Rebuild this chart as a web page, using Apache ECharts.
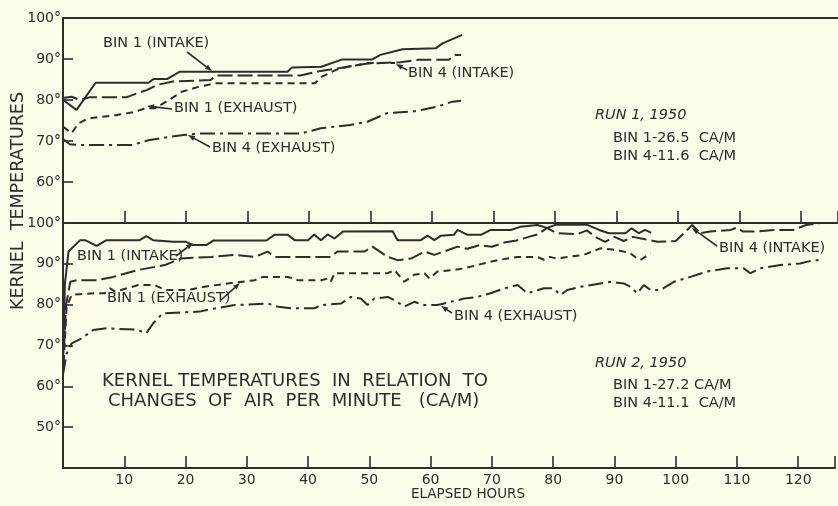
<!DOCTYPE html>
<html>
<head>
<meta charset="utf-8">
<script src="https://cdn.jsdelivr.net/npm/echarts@6/dist/echarts.min.js"></script>
<style>
  html, body { margin: 0; padding: 0; background: #fcfce8; }
  #chart { width: 838px; height: 506px; }
</style>
</head>
<body>
<div id="chart"></div>
<script>
// Run 1, 1950 - [elapsed hours, kernel temperature]
const run1Bin1Intake = [[0,80],[2.2,77.6],[5.3,84.2],[13.9,84.2],[14.7,85.1],[16.9,85.1],[19,86.9],[36.5,86.9],[37.2,87.9],[42,88.1],[45.4,89.9],[50.3,89.9],[51.6,91],[55.2,92.4],[60.6,92.6],[61.7,93.8],[64.9,95.9]]
const run1Bin4Intake = [[0,80.5],[1.4,80.8],[2.8,80],[4.4,80.7],[10.4,80.7],[12,81.6],[13.6,82.4],[15.3,83.7],[17.9,84.5],[24,84.9],[25,86],[38.6,86],[41.9,87.1],[44.6,87.7],[49.5,88.9],[54.9,89.2],[57.8,89.8],[62.7,89.8],[63.8,91],[64.7,91]]
const run1Bin1Exhaust = [[0,73.5],[1.4,71.9],[2.5,74.3],[4.1,75.5],[8.5,76.3],[11.7,77.1],[13.4,78],[15,78],[17.2,80],[19.3,82],[22,83.2],[24.8,84.1],[41,84.1],[42.1,85.7],[44.3,87.3],[46.4,88.1],[49.7,89],[54,89]]
const run1Bin4Exhaust = [[0,70.5],[1.1,69.2],[2.8,69],[11.2,69],[13.9,70.2],[17.2,71],[19.9,71.5],[21.8,71.8],[38.6,71.8],[41.9,73.1],[46.7,73.9],[49.5,74.7],[52.7,76.8],[56.8,77.2],[58.4,77.6],[60.9,78.4],[63.3,79.6],[64.7,79.8]]

// Run 2, 1950
const run2Bin1Intake = [[0,64],[0.3,85],[0.9,93],[2.8,95.8],[3.6,95.8],[5.5,94.4],[7.1,95.8],[12.5,95.8],[13.6,96.8],[14.7,95.8],[18,95.4],[20.1,95.4],[21.2,94.6],[23.4,94.6],[24.5,95.7],[33.2,95.7],[34.5,97.1],[36.7,97.1],[37.8,95.8],[40,95.8],[41,97.2],[42.1,95.8],[43.2,97.2],[44.3,96.2],[45.7,97.9],[53.8,98],[54.6,95.8],[58.4,95.8],[59.5,96.9],[60.6,95.8],[61.7,96.9],[63.8,97.1],[64.4,98.3],[66,97.1],[68.2,97.1],[69.8,98.3],[73.1,98.3],[74.7,99.1],[77.4,99.5],[79,98.8],[80.5,99.6],[85.5,99.6],[87.5,98.3],[89.1,97.5],[91.8,97.5],[92.8,98.7],[94,97.5],[95,98.3],[96,97.6]]
const run2Bin4Intake = [[0,64],[0.5,80],[1.2,85.6],[2.2,86],[5.5,86],[8.2,86.8],[12.3,88.5],[16.6,89.7],[19.3,91.3],[24.2,91.7],[28,92.2],[31.3,91.7],[33.4,93],[34.5,91.7],[43.7,91.7],[44.8,93],[49.2,93],[50.5,94.2],[53,91.7],[54.6,90.9],[56.8,91.3],[59,93],[60.6,92.2],[62.2,93],[64.4,94.2],[66,93.7],[68,94.6],[70,94.2],[72,95.2],[74,95.7],[76,96.6],[77.5,97.2],[79,98.8],[80.5,97.5],[84,97.3],[85.5,98.2],[87,96.5],[88.5,95.4],[90,96.6],[91.5,95.6],[93,96.6],[95,96],[97,95.4],[100,95.6],[102.7,99.5],[104,97.5],[105.6,97.9],[109,98.3],[110,98.9],[111,97.9],[113.2,97.9],[116,98.3],[119.2,98.3],[121.3,99.5],[123.6,100],[125,100]]
const run2Bin1Exhaust = [[0,63],[0.6,79.5],[1.4,82.4],[5.2,82.8],[6.8,82.8],[7.7,84],[8.5,83.2],[12.3,84.8],[15,84.8],[16.6,83.6],[20.4,83.6],[23.1,84.4],[26.9,85.2],[31.3,86],[32.6,86.8],[36.7,86.8],[38.3,86],[42.1,86],[43.2,86.4],[43.7,85.6],[44.3,87.7],[53,87.7],[54.1,88.5],[55.7,85.6],[57.3,87.3],[59,87.7],[59.8,86.4],[61.1,88.1],[63.8,88.5],[65.5,88.9],[67.6,89.7],[70.9,90.9],[74.2,91.7],[77.4,91.7],[78.5,91],[79.5,91.7],[80.5,91.3],[85,92.2],[87.7,93.8],[90.4,93.4],[92.6,92.6],[93.7,91.3],[94.2,90.9],[95.9,92.6]]
const run2Bin4Exhaust = [[0,63],[0.6,68],[1.4,70.5],[3,71.7],[4.9,73.8],[7.1,74.2],[12,73.9],[13.6,73],[14.7,75.4],[16.3,77.9],[22.3,78.3],[24.5,79],[28,79.9],[33.4,80.3],[35.1,79.5],[37.2,79.1],[41,79.1],[42.1,79.9],[45.4,80.3],[47,81.9],[48.6,81.5],[49.7,79.9],[50.8,81.5],[53,81.9],[54.1,81.1],[55.7,79.5],[57.3,80.7],[59,79.9],[61.1,79.9],[62.2,80.3],[65.5,81.5],[67.6,81.9],[69.8,82.8],[72,84],[74.2,84.8],[75.8,82.8],[78.5,84],[80,84],[81.2,82.4],[82.3,83.6],[84.5,84.4],[87.7,85.2],[89.3,85.6],[91.5,85.2],[92.6,84.4],[93.7,82.8],[94.8,84.8],[95.9,83.6],[97.5,83.6],[99.7,85.6],[102.4,86.8],[105.1,88.1],[108.4,88.9],[111.1,88.9],[112.2,87.7],[113.8,88.9],[117.1,89.7],[120.3,90.1],[122.5,90.9],[124.1,90.9]]

const xTicks = [10, 20, 30, 40, 50, 60, 70, 80, 90, 100, 110, 120]

const ink = '#2c2c31'
const font = 'DejaVu Sans'

const chart = echarts.init(document.getElementById('chart'), null, { renderer: 'canvas' })

function line(data, dash, x, y) {
  return {
    type: 'line',
    xAxisIndex: x,
    yAxisIndex: y,
    data: data,
    showSymbol: false,
    symbol: 'none',
    silent: true,
    lineStyle: { color: ink, width: 2, type: dash }
  }
}

function label(text, x, y, size, italic) {
  return {
    type: 'text', x: x, y: y, silent: true,
    style: {
      text: text, fill: ink, align: 'left', verticalAlign: 'middle',
      font: (italic ? 'italic ' : '') + (size || 14.5) + 'px "' + font + '"'
    }
  }
}

// pointer line with a small head at (x2, y2)
function pointer(x1, y1, x2, y2) {
  const a = Math.atan2(y2 - y1, x2 - x1)
  const l = 7, w = 2.6
  const bx = x2 - l * Math.cos(a), by = y2 - l * Math.sin(a)
  return [
    { type: 'line', silent: true, shape: { x1: x1, y1: y1, x2: bx, y2: by }, style: { stroke: ink, lineWidth: 1.6 } },
    { type: 'polygon', silent: true, shape: { points: [
      [x2, y2],
      [bx + w * Math.sin(a), by - w * Math.cos(a)],
      [bx - w * Math.sin(a), by + w * Math.cos(a)]
    ] }, style: { fill: ink } }
  ]
}

const axisLine = { show: true, lineStyle: { color: ink, width: 2 } }
const tick = { show: true, inside: true, lineStyle: { color: ink, width: 1.6 } }

chart.setOption({
  backgroundColor: '#fcfce8',
  animation: false,
  grid: [
    { left: 63, right: 0, top: 18, height: 205 },
    { left: 63, right: 0, top: 223, height: 245 }
  ],
  xAxis: [
    {
      gridIndex: 0, type: 'value', min: 0, max: 126, interval: 10, position: 'bottom',
      axisLine: axisLine, axisTick: Object.assign({ length: 12 }, tick),
      axisLabel: { show: false }, splitLine: { show: false }
    },
    {
      gridIndex: 0, type: 'value', min: 0, max: 126, position: 'top',
      axisLine: axisLine, axisTick: { show: false },
      axisLabel: { show: false }, splitLine: { show: false }
    },
    {
      gridIndex: 1, type: 'value', min: 0, max: 126, interval: 10, position: 'bottom',
      axisLine: axisLine, axisTick: Object.assign({ length: 12 }, tick),
      axisLabel: {
        color: ink, fontFamily: font, fontSize: 14, margin: 5,
        formatter: v => xTicks.indexOf(v) >= 0 ? String(v) : ''
      },
      splitLine: { show: false }
    }
  ],
  yAxis: [
    {
      gridIndex: 0, type: 'value', min: 50, max: 100, interval: 10,
      axisLine: axisLine, axisTick: Object.assign({ length: 10 }, tick),
      axisLabel: { color: ink, fontFamily: font, fontSize: 14, margin: 2,
        formatter: v => v === 50 ? '' : v + '°' },
      splitLine: { show: false }
    },
    {
      gridIndex: 1, type: 'value', min: 40, max: 100, interval: 10,
      axisLine: axisLine, axisTick: Object.assign({ length: 10 }, tick),
      axisLabel: { color: ink, fontFamily: font, fontSize: 14, margin: 2,
        formatter: v => v === 40 ? '' : v + '°' },
      splitLine: { show: false }
    }
  ],
  series: [
    line(run1Bin1Intake, 'solid', 0, 0),
    line(run1Bin4Intake, [15, 5], 0, 0),
    line(run1Bin1Exhaust, [7, 5], 0, 0),
    line(run1Bin4Exhaust, [15, 5, 3, 5], 0, 0),
    line(run2Bin1Intake, 'solid', 2, 1),
    line(run2Bin4Intake, [15, 5], 2, 1),
    line(run2Bin1Exhaust, [7, 5], 2, 1),
    line(run2Bin4Exhaust, [15, 5, 3, 5], 2, 1)
  ],
  graphic: [
    // run 1 annotations
    label('BIN 1 (INTAKE)', 103, 43),
    ...pointer(187, 52, 212, 71),
    label('BIN 4 (INTAKE)', 408, 73),
    ...pointer(407, 70, 396, 64),
    label('BIN 1 (EXHAUST)', 174, 108),
    ...pointer(172, 109, 147, 106),
    label('BIN 4 (EXHAUST)', 212, 148),
    ...pointer(210, 147, 188, 135),
    label('RUN 1, 1950', 595, 115, 14.5, true),
    label('BIN 1-26.5  CA/M', 613, 138),
    label('BIN 4-11.6  CA/M', 613, 156),
    // run 2 annotations
    label('BIN 1 (INTAKE)', 77, 256),
    ...pointer(176, 256, 193, 243),
    label('BIN 1 (EXHAUST)', 107, 298),
    ...pointer(221, 300, 240, 283),
    label('BIN 4 (EXHAUST)', 454, 316),
    ...pointer(452, 313, 441, 306),
    label('BIN 4 (INTAKE)', 719, 248),
    ...pointer(717, 246, 692, 228),
    label('KERNEL TEMPERATURES  IN  RELATION  TO', 102, 381, 18),
    label('CHANGES  OF  AIR  PER  MINUTE   (CA/M)', 108, 401, 18),
    label('RUN 2, 1950', 595, 363, 14.5, true),
    label('BIN 1-27.2 CA/M', 613, 385),
    label('BIN 4-11.1  CA/M', 613, 403),
    // axis names
    {
      type: 'text', x: 18, y: 201, rotation: Math.PI / 2, silent: true,
      style: { text: 'KERNEL  TEMPERATURES', fill: ink, align: 'center', verticalAlign: 'middle',
        font: '17.5px "' + font + '"' }
    },
    {
      type: 'text', x: 468, y: 494, silent: true,
      style: { text: 'ELAPSED HOURS', fill: ink, align: 'center', verticalAlign: 'middle',
        font: '13.5px "' + font + '"' }
    }
  ]
})
</script>
</body>
</html>
